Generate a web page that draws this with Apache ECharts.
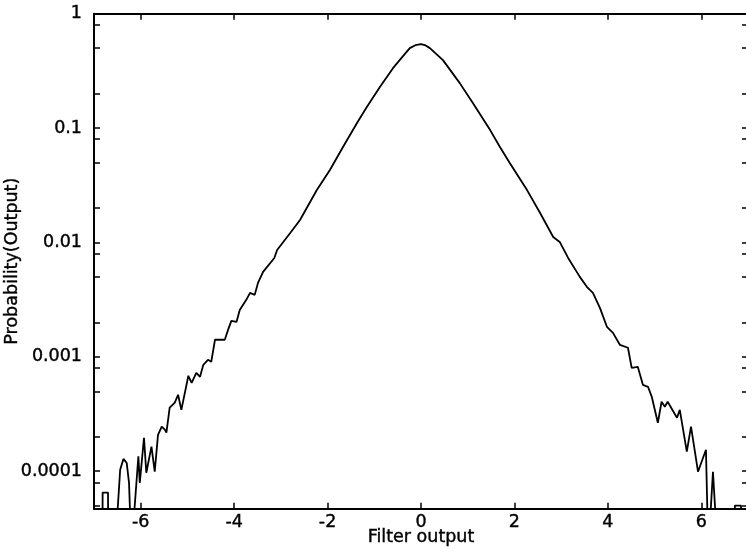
<!DOCTYPE html>
<html>
<head>
<meta charset="utf-8">
<script src="https://cdn.jsdelivr.net/npm/echarts@6/dist/echarts.min.js"></script>
<style>html,body{margin:0;padding:0;background:#fff}#c{width:746px;height:549px}</style>
</head>
<body>
<div id="c"></div>
<script>
// Filter output values (x) and estimated probability (y)
const xs = [-7.0, -6.82, -6.815, -6.70, -6.695, -6.55, -6.44, -6.37, -6.30, -6.25, -6.20, -6.18, -6.05, -6.02, -5.93, -5.88, -5.77, -5.70, -5.63, -5.55, -5.48, -5.45, -5.38, -5.27, -5.20, -5.13, -4.98, -4.91, -4.81, -4.73, -4.66, -4.56, -4.49, -4.41, -4.20, -4.13, -4.06, -3.95, -3.88, -3.74, -3.66, -3.56, -3.49, -3.38, -3.14, -3.08, -2.80, -2.59, -2.23, -1.95, -1.67, -1.37, -1.16, -0.88, -0.60, -0.385, -0.24, -0.12, 0.0, 0.10, 0.19, 0.47, 0.83, 1.11, 1.48, 1.69, 1.90, 2.27, 2.55, 2.83, 2.97, 3.15, 3.40, 3.55, 3.68, 3.83, 3.98, 4.11, 4.26, 4.43, 4.51, 4.64, 4.75, 4.86, 4.94, 5.07, 5.15, 5.22, 5.28, 5.48, 5.54, 5.69, 5.78, 5.93, 6.10, 6.15, 6.25, 6.35, 6.70, 6.72, 6.85, 6.87, 7.0];
const ys = [2e-5, 2e-5, 6.5e-5, 6.5e-5, 2e-5, 2e-5, 1.03e-4, 1.28e-4, 1.18e-4, 7.9e-5, 2e-5, 2e-5, 1.35e-4, 7.9e-5, 1.96e-4, 9.7e-5, 1.64e-4, 9.9e-5, 2.08e-4, 2.45e-4, 2.30e-4, 2.17e-4, 3.59e-4, 3.97e-4, 4.66e-4, 3.44e-4, 6.83e-4, 5.93e-4, 7.25e-4, 6.69e-4, 8.51e-4, 9.41e-4, 9.04e-4, 1.41e-3, 1.41e-3, 1.72e-3, 2.06e-3, 2.02e-3, 2.57e-3, 3.15e-3, 3.62e-3, 3.48e-3, 4.43e-3, 5.53e-3, 7.32e-3, 8.6e-3, 0.01211, 0.01572, 0.02874, 0.0430, 0.0683, 0.1106, 0.1526, 0.2281, 0.3342, 0.4253, 0.4996, 0.530, 0.542, 0.528, 0.500, 0.3925, 0.2472, 0.1653, 0.0960, 0.0683, 0.0495, 0.0287, 0.0181, 0.01117, 0.0101, 7.32e-3, 5.0e-3, 4.09e-3, 3.62e-3, 2.68e-3, 1.83e-3, 1.62e-3, 1.27e-3, 1.20e-3, 8.01e-4, 8.18e-4, 5.69e-4, 5.47e-4, 4.47e-4, 2.65e-4, 4.05e-4, 3.66e-4, 4.05e-4, 2.93e-4, 3.44e-4, 1.48e-4, 2.45e-4, 9.9e-5, 1.54e-4, 2e-5, 9.9e-5, 2e-5, 2e-5, 5e-5, 5e-5, 2e-5, 2e-5];
const xTicks = [-6, -4, -2, 0, 2, 4, 6];
const yLabelValues = [0.0001, 0.001, 0.01, 0.1, 1];
const yLabelText = ['0.0001', '0.001', '0.01', '0.1', '1'];
const yTickValues = [0.00005, 0.00008, 0.0001, 0.0002, 0.0005, 0.0008, 0.001, 0.002, 0.005, 0.008, 0.01, 0.02, 0.05, 0.08, 0.1, 0.2, 0.5, 0.8, 1];

const data = xs.map((x, i) => [x, ys[i]]);
const font = 'DejaVu Sans';
const ink = '#000';
const txt = {fontFamily: font, fontSize: 17.5, color: ink, textBorderColor: ink, textBorderWidth: 0.4};
const chart = echarts.init(document.getElementById('c'), null, {renderer: 'canvas'});
const yBase = {
  type: 'log', logBase: 10, min: 4.7e-5, max: 1,
  splitLine: {show: false}, minorTick: {show: false},
  axisLine: {show: true, onZero: false, lineStyle: {color: ink, width: 2}},
  axisTick: {show: true, inside: true, length: 6, customValues: yTickValues, lineStyle: {color: ink, width: 1.5}}
};
chart.setOption({
  animation: false,
  backgroundColor: '#fff',
  grid: {left: 94, top: 13.7, width: 654, height: 495, containLabel: false, outerBoundsMode: 'none'},
  xAxis: [
    {type: 'value', min: -7, max: 7, interval: 2, position: 'bottom',
     name: 'Filter output', nameLocation: 'middle', nameGap: 20, nameMoveOverlap: false,
     nameTextStyle: txt,
     splitLine: {show: false},
     axisLine: {onZero: false, lineStyle: {color: ink, width: 2}},
     axisTick: {inside: true, length: 6, customValues: xTicks, lineStyle: {color: ink, width: 1.5}},
     axisLabel: Object.assign({customValues: xTicks, margin: 5}, txt)},
    {type: 'value', min: -7, max: 7, interval: 2, position: 'top',
     splitLine: {show: false},
     axisLine: {onZero: false, lineStyle: {color: ink, width: 2}},
     axisTick: {inside: true, length: 6, customValues: xTicks, lineStyle: {color: ink, width: 1.5}},
     axisLabel: {show: false}}
  ],
  yAxis: [
    Object.assign({}, yBase, {
      position: 'left',
      name: 'Probability(Output)', nameLocation: 'middle', nameGap: 73, nameRotate: 90, nameMoveOverlap: false,
      nameTextStyle: txt,
      axisLabel: Object.assign({customValues: yLabelValues, margin: 12,
        formatter: v => { const i = yLabelValues.findIndex(t => Math.abs(t - v) / t < 1e-6); return i >= 0 ? yLabelText[i] : ''; }}, txt)
    }),
    Object.assign({}, yBase, {position: 'right', axisLabel: {show: false}})
  ],
  series: [{
    type: 'line', xAxisIndex: 0, yAxisIndex: 0, data: data,
    symbol: 'none', smooth: false, clip: true,
    lineStyle: {color: ink, width: 1.8}
  }]
});
</script>
</body>
</html>
